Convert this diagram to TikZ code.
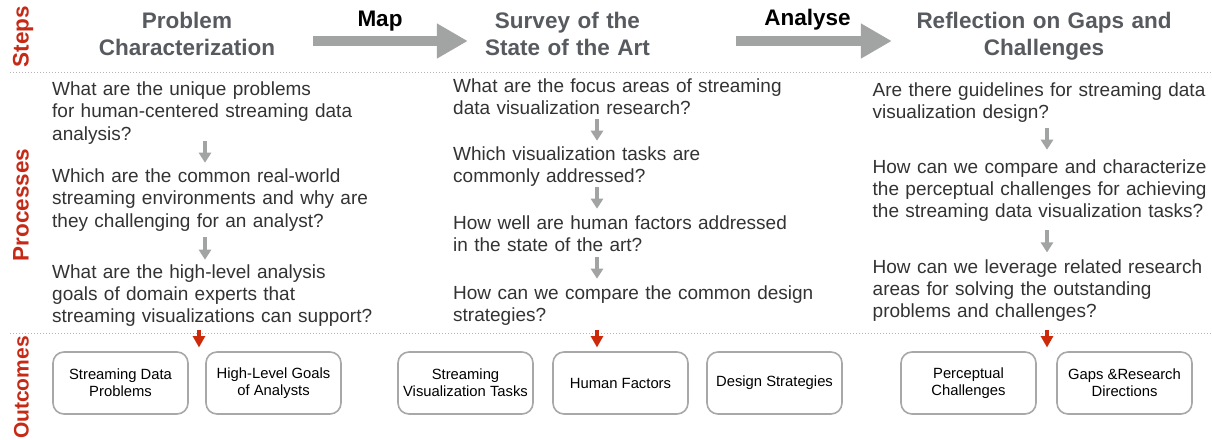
\documentclass[tikz,border=0pt]{standalone}
\usepackage{fontspec}
\setmainfont{Liberation Sans}
\usetikzlibrary{arrows.meta}

\definecolor{stepred}{HTML}{C62A16}
\definecolor{headgray}{HTML}{575A5F}
\definecolor{qtext}{HTML}{333333}
\definecolor{arrgray}{HTML}{A2A4A3}
\definecolor{boxline}{HTML}{A8A8A8}
\definecolor{dotline}{HTML}{B4B4B4}
\definecolor{outred}{HTML}{CC2A0A}

\begin{document}
\begin{tikzpicture}[x=1pt,y=-1pt,
  rowlabel/.style={rotate=90,anchor=base,inner sep=0,text=stepred,
    font=\fontsize{22.5}{27}\selectfont\bfseries},
  stephead/.style={anchor=base,inner sep=0,text width=260pt,align=center,
    text=headgray,font=\fontsize{22.5}{27.7}\selectfont\bfseries},
  verblabel/.style={anchor=base,inner sep=0,font=\fontsize{22.5}{27}\selectfont\bfseries},
  bigarrow/.style={draw=arrgray,line width=10pt,-{Triangle[width=33pt,length=31pt]}},
  question/.style={anchor=base west,inner sep=0,text width=380pt,align=left,
    text=qtext,font=\fontsize{19}{22.2}\selectfont},
  flowarrow/.style={draw=arrgray,line width=3.5pt,-{Triangle[width=12pt,length=10pt]}},
  resultarrow/.style={draw=outred,line width=4pt,-{Triangle[width=12pt,length=11.5pt]}},
  outbox/.style={draw=boxline,line width=1.6pt,rounded corners=11pt,fill=white,
    minimum width=135pt,minimum height=62pt,inner sep=0,align=center,
    font=\fontsize{14.8}{17.4}\selectfont},
  sepline/.style={draw=dotline,line width=0.9pt,dash pattern=on 1pt off 2pt}
]
% canvas
\fill[white] (0,0) rectangle (1212,439);
\useasboundingbox (0,0) rectangle (1212,439);

% row labels
\node[rowlabel] (lsteps) at (28.5,36.5) {Steps};
\node[rowlabel] (lproc)  at (28.5,205)  {Processes};
\node[rowlabel, font=\fontsize{21}{25}\selectfont\bfseries] (lout) at (28.5,387.5) {Outcomes};

% row separators
\draw[sepline] (10,72) -- (1212,72);
\draw[sepline] (10,333) -- (1212,333);

% steps
\node[stephead] (h1) at (187,28)   {Problem\\Characterization};
\node[stephead] (h2) at (567.5,28) {Survey of the\\State of the Art};
\node[stephead] (h3) at (1044,28)  {Reflection on Gaps and\\Challenges};

\node[verblabel] (map)     at (380,26.7)  {Map};
\node[verblabel] (analyse) at (807.5,25.5) {Analyse};

\draw[bigarrow] ([xshift=-4pt,yshift=-13pt]h1.base east) -- ([xshift=30.5pt,yshift=-13pt]h2.base west);
\draw[bigarrow] ([xshift=38.5pt,yshift=-13pt]h2.base east) -- ([xshift=-22pt,yshift=-13pt]h3.base west);

% arrow columns
\coordinate (c1) at (205,0);
\coordinate (c2) at (597,0);
\coordinate (c3) at (1047,0);
\coordinate (r1) at (199,0);

% processes: problem characterization
\node[question] (q11) at (52,95.7)  {What are the unique problems\\for human-centered streaming data\\analysis?};
\node[question] (q12) at (52,182.7) {Which are the common real-world\\streaming environments and why are\\they challenging for an analyst?};
\node[question] (q13) at (52,278.3) {What are the high-level analysis\\goals of domain experts that\\streaming visualizations can support?};

% processes: survey
\node[question] (q21) at (453,92.7)  {What are the focus areas of streaming\\data visualization research?};
\node[question] (q22) at (453,160.7) {Which visualization tasks are\\commonly addressed?};
\node[question] (q23) at (453,229.3) {How well are human factors addressed\\in the state of the art?};
\node[question] (q24) at (453,299.3) {How can we compare the common design\\strategies?};

% processes: reflection
\node[question] (q31) at (872.5,96)    {Are there guidelines for streaming data\\visualization design?};
\node[question] (q32) at (872.5,173.3) {How can we compare and characterize\\the perceptual challenges for achieving\\the streaming data visualization tasks?};
\node[question] (q33) at (872.5,273.3) {How can we leverage related research\\areas for solving the outstanding\\problems and challenges?};

\draw[flowarrow, shorten <=-3.1pt, shorten >=6pt]   (q11.south -| c1) -- (q12.north -| c1);
\draw[flowarrow, shorten <=5.6pt,  shorten >=4.6pt] (q12.south -| c1) -- (q13.north -| c1);
\draw[flowarrow, shorten <=4.1pt,  shorten >=6pt]   (q21.south -| c2) -- (q22.north -| c2);
\draw[flowarrow, shorten <=0.1pt,  shorten >=6.6pt] (q22.south -| c2) -- (q23.north -| c2);
\draw[flowarrow, shorten <=5.2pt,  shorten >=6.6pt] (q23.south -| c2) -- (q24.north -| c2);
\draw[flowarrow, shorten <=5.8pt,  shorten >=9.6pt] (q31.south -| c3) -- (q32.north -| c3);
\draw[flowarrow, shorten <=8.3pt,  shorten >=6.9pt] (q32.south -| c3) -- (q33.north -| c3);

% outcomes
\node[outbox] (b1) at (120.5,383) {Streaming Data\\Problems};
\node[outbox] (b2) at (273.5,383) {High-Level Goals\\of Analysts};
\node[outbox] (b3) at (465.5,383) {Streaming\\Visualization Tasks};
\node[outbox] (b4) at (620.5,383) {Human Factors};
\node[outbox] (b5) at (774.5,383) {Design Strategies};
\node[outbox] (b6) at (968.5,383) {Perceptual\\Challenges};
\node[outbox] (b7) at (1124.5,383) {Gaps \&Research\\Directions};

\draw[resultarrow, shorten <=3.3pt, shorten >=3.7pt] (q13.south -| r1) -- (b1.north -| r1);
\draw[resultarrow, shorten <=4.5pt, shorten >=3.7pt] (q24.south -| c2) -- (b4.north -| c2);
\draw[resultarrow, shorten <=8.3pt, shorten >=3.7pt] (q33.south -| c3) -- (b6.north -| c3);
\end{tikzpicture}
\end{document}
